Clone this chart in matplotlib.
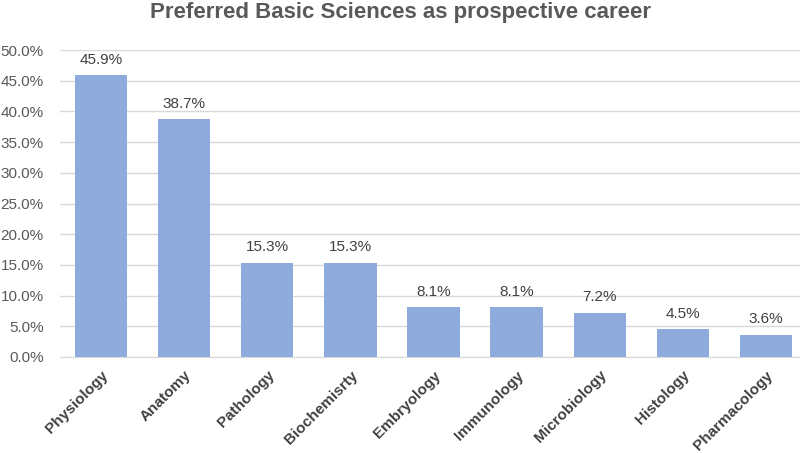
import matplotlib.pyplot as plt
from matplotlib.ticker import PercentFormatter

plt.rcParams['font.family'] = ['Liberation Sans', 'DejaVu Sans']

categories = ['Physiology', 'Anatomy', 'Pathology', 'Biochemisrty', 'Embryology',
              'Immunology', 'Microbiology', 'Histology', 'Pharmacology']
values = [45.9, 38.7, 15.3, 15.3, 8.1, 8.1, 7.2, 4.5, 3.6]
y_ticks = [0, 5, 10, 15, 20, 25, 30, 35, 40, 45, 50]

fig = plt.figure(figsize=(8, 4.53), dpi=100)
ax = fig.add_axes([59.5 / 800, 1 - 357 / 453, 748 / 800, 307 / 453])

x = range(len(categories))
bars = ax.bar(x, values, width=0.63, color='#8FAADC', zorder=3)

# etiquetas de valor sobre cada barra
for i, v in enumerate(values):
    ax.text(i, v + 1.4, f'{v:.1f}%', ha='center', va='bottom', fontsize=11, color='#404040')

ax.set_xlim(-0.5, len(categories) - 0.5)
ax.set_ylim(0, 50)
ax.set_yticks(y_ticks)
ax.yaxis.set_major_formatter(PercentFormatter(decimals=1))
ax.grid(axis='y', color='#D9D9D9', linewidth=1, zorder=0)

ax.set_xticks(list(x))
ax.set_xticklabels(categories, rotation=45, ha='right', rotation_mode='anchor',
                   fontsize=11, fontweight='bold', color='#404040')
ax.tick_params(axis='y', length=0, labelsize=11, labelcolor='#595959', pad=11.5)
ax.tick_params(axis='x', length=0, pad=8)

for s in ['top', 'right', 'left']:
    ax.spines[s].set_visible(False)
ax.spines['bottom'].set_color('#D9D9D9')

fig.text(0.5, 0.972, 'Preferred Basic Sciences as prospective career', ha='center', va='center',
         fontsize=16, fontweight='bold', color='#595959')

fig.savefig('out.png', dpi=100)
